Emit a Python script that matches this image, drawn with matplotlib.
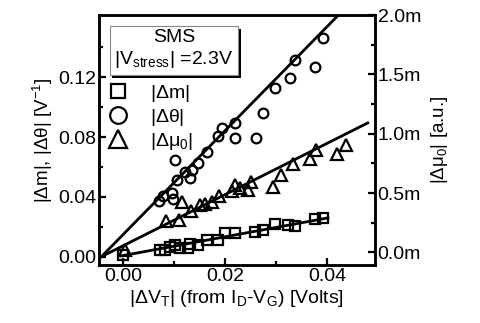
import numpy as np
import matplotlib
matplotlib.use('Agg')
import matplotlib.pyplot as plt
import matplotlib.patheffects as pe
from matplotlib.lines import Line2D

plt.rcParams['font.family'] = ['Liberation Sans', 'DejaVu Sans']
plt.rcParams['mathtext.fontset'] = 'custom'
plt.rcParams['mathtext.rm'] = 'Liberation Sans'
plt.rcParams['mathtext.it'] = 'Liberation Sans'

# |dVT| vs |dm|
dvt_m = [0.0000, 0.0073, 0.0082, 0.0092, 0.0102, 0.0112, 0.0128, 0.0131, 0.0148, 0.0164,
         0.0187, 0.0200, 0.0220, 0.0259, 0.0275, 0.0298, 0.0324, 0.0337, 0.0376, 0.0393]
dm = [0.0008, 0.0041, 0.0045, 0.0067, 0.0078, 0.0056, 0.0056, 0.0085, 0.0078, 0.0112,
      0.0112, 0.0157, 0.0157, 0.0167, 0.0179, 0.0215, 0.0212, 0.0205, 0.0250, 0.0257]

# |dVT| vs |dtheta|
dvt_th = [0.0071, 0.0078, 0.0096, 0.0098, 0.0106, 0.0102, 0.0122, 0.0131, 0.0135, 0.0147, 0.0165,
          0.0186, 0.0194, 0.0220, 0.0220, 0.0261, 0.0275, 0.0298, 0.0327, 0.0337, 0.0376, 0.0392]
dth = [0.0373, 0.0406, 0.0426, 0.0386, 0.0513, 0.0647, 0.0567, 0.0526, 0.0580, 0.0627, 0.0700,
       0.0807, 0.0861, 0.0895, 0.0794, 0.0794, 0.0961, 0.1128, 0.1195, 0.1316, 0.1269, 0.1463]

# |dVT| vs |dmu0| (in units of 1e-3)
dvt_mu = [0.0004, 0.0084, 0.0110, 0.0116, 0.0133, 0.0151, 0.0161, 0.0175, 0.0188, 0.0214, 0.0220,
          0.0229, 0.0245, 0.0251, 0.0294, 0.0310, 0.0333, 0.0367, 0.0378, 0.0420, 0.0437]
dmu = [0.019, 0.264, 0.272, 0.424, 0.348, 0.399, 0.407, 0.424, 0.475, 0.517, 0.567,
       0.542, 0.525, 0.593, 0.551, 0.652, 0.745, 0.787, 0.863, 0.829, 0.905]

# linear fits: slope, intercept, x range
fit_m = (0.627, 0.0007, -0.0003, 0.0402)
fit_th = (3.48, 0.0146, -0.0042, 0.048)
fit_mu = (21.6, 0.054, -0.0042, 0.048)

fig = plt.figure(figsize=(4.8, 3.23), dpi=100)
ax = fig.add_axes([0.206, 0.1796, 0.575, 0.774])
ax2 = ax.twinx()

mk = dict(mfc='none', mec='black', mew=1.6, ls='none')
ax.plot(dvt_m, dm, marker='s', ms=6.5, **mk)
ax.plot(dvt_th, dth, marker='o', ms=7, **mk)
ax2.plot(dvt_mu, np.array(dmu) * 1e-3, marker='^', ms=8.5, **mk)

for a, (k, b, x0, x1), sc in [(ax, fit_m, 1), (ax, fit_th, 1), (ax2, fit_mu, 1e-3)]:
    xs = np.array([x0, x1])
    a.plot(xs, (k * xs + b) * sc, color='black', lw=2)

ax.set_xlim(-0.0047, 0.0494)
ax.set_ylim(-0.0056, 0.1617)
ax2.set_ylim(-0.107e-3, 2.001e-3)

ax.set_xticks([0, 0.02, 0.04])
ax.set_xticks([0.01, 0.03], minor=True)
ax.set_yticks([0, 0.04, 0.08, 0.12])
ax.set_yticks([0.02, 0.06, 0.10, 0.14], minor=True)
ax.set_xticklabels(['0.00', '0.02', '0.04'])
ax.set_yticklabels(['0.00', '0.04', '0.08', '0.12'])
ax2.set_yticks([0, 0.5e-3, 1.0e-3, 1.5e-3, 2.0e-3])
ax2.set_yticks([0.25e-3, 0.75e-3, 1.25e-3, 1.75e-3], minor=True)
ax2.set_yticklabels(['0.0m', '0.5m', '1.0m', '1.5m', '2.0m'])

fs = 14
for a in (ax, ax2):
    a.tick_params(which='both', direction='in', labelsize=fs, width=1.6, pad=2)
    a.tick_params(which='major', length=5)
    a.tick_params(which='minor', length=3)
    for s in a.spines.values():
        s.set_linewidth(1.8)
ax.tick_params(which='both', top=False, right=False)

ax.set_ylabel(r'$|\Delta$m$|$, $|\Delta\theta|$ [V$^{-1}$]', fontsize=13.5, labelpad=2)
ax.set_xlabel(r'$|\Delta$V$_{T}|$ (from I$_{D}$-V$_{G}$) [Volts]', fontsize=14, labelpad=2)
ax2.set_ylabel(r'$|\Delta\mu_{0}|$ [a.u.]', fontsize=13.5, labelpad=6)

t = ax.text(0.272, 0.862, 'SMS\n' + r'$|$V$_{stress}|$ =2.3V', transform=ax.transAxes,
            ha='center', va='center', multialignment='center', fontsize=14,
            bbox=dict(boxstyle='square,pad=0.25', fc='white', ec='#888888', lw=0.8))
t.get_bbox_patch().set_path_effects([
    pe.SimplePatchShadow(offset=(2, -2), shadow_rgbFace='black', alpha=1.0), pe.Normal()])

handles = [Line2D([], [], marker='s', ms=10, **mk),
           Line2D([], [], marker='o', ms=12, **mk),
           Line2D([], [], marker='^', ms=13, **mk)]
labels = [r'$|\Delta$m$|$', r'$|\Delta\theta|$', r'$|\Delta\mu_{0}|$']
ax.legend(handles, labels, loc='upper left', bbox_to_anchor=(-0.02, 0.775), frameon=False,
          fontsize=14, labelspacing=0.15, handlelength=1.3, handletextpad=1.0,
          borderaxespad=0.2)

fig.savefig('out.png', dpi=100)
